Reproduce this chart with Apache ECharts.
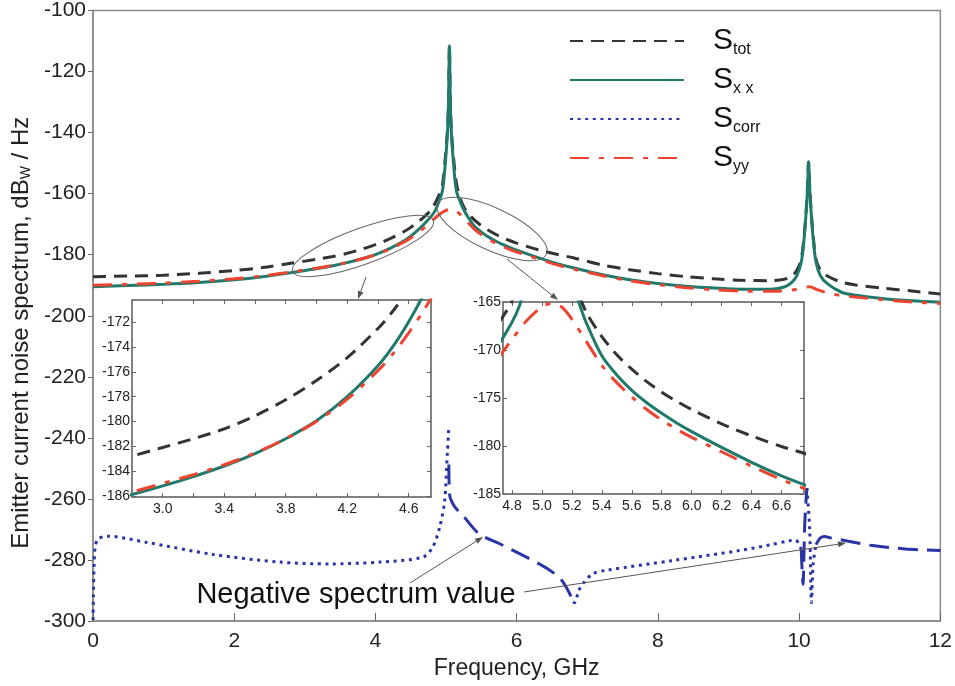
<!DOCTYPE html>
<html><head><meta charset="utf-8">
<script src="https://cdn.jsdelivr.net/npm/echarts@6/dist/echarts.min.js"></script>
<style>html,body{margin:0;padding:0;background:#fff}#c{width:955px;height:686px}</style>
</head><body><div id="c"></div>
<script>
// ---------------- data (frequency in GHz, spectrum in dB_W/Hz) ----------------
const legendNames = ['Stot', 'Sxx', 'Scorr', 'Syy'];
const legendSubs = { Stot: 'tot', Sxx: 'x x', Scorr: 'corr', Syy: 'yy' };

const stotFreq = [0, 0.5, 1.0, 1.5, 2.0, 2.4, 2.8, 3.0, 3.2, 3.4, 3.6, 3.8, 4.0, 4.2, 4.4, 4.5, 4.6, 4.7, 4.8, 4.9, 4.95, 4.99, 5.02, 5.035, 5.048, 5.06, 5.075, 5.105, 5.15, 5.2, 5.25, 5.3, 5.4, 5.5, 5.6, 5.7, 5.8, 5.9, 6.0, 6.2, 6.4, 6.6, 6.8, 7.2, 7.6, 8.0, 8.4, 8.8, 9.2, 9.6, 9.8, 9.9, 9.97, 10.03, 10.07, 10.1, 10.12, 10.134, 10.15, 10.17, 10.2, 10.24, 10.3, 10.4, 10.6, 10.8, 11.2, 11.6, 12];
const stotVal  = [-187.2, -187.0, -186.7, -186.1, -185.2, -184.2, -182.8, -182.1, -181.4, -180.6, -179.55, -178.25, -176.7, -174.85, -172.5, -171.05, -169.3, -167.4, -164.9, -160.5, -157, -148, -139, -129.5, -111.6, -129.5, -139, -148, -157, -161.5, -164.3, -166.2, -168.6, -170.5, -172.0, -173.3, -174.4, -175.35, -176.2, -177.7, -178.95, -180.05, -181.0, -183.3, -184.9, -186.2, -187.2, -187.9, -188.4, -188.5, -188.0, -187.0, -185.0, -181.5, -174, -165.5, -157.5, -149.6, -157.5, -165.5, -174, -181.5, -185.0, -187.0, -189.0, -189.9, -191.0, -191.9, -192.9];

const sxxFreq = [0, 0.5, 1.0, 1.5, 2.0, 2.4, 2.8, 3.0, 3.2, 3.4, 3.6, 3.8, 4.0, 4.2, 4.4, 4.5, 4.6, 4.7, 4.8, 4.85, 4.9, 4.95, 4.99, 5.02, 5.035, 5.048, 5.06, 5.075, 5.105, 5.145, 5.2, 5.25, 5.3, 5.4, 5.5, 5.6, 5.7, 5.8, 5.9, 6.0, 6.2, 6.4, 6.6, 6.8, 7.2, 7.6, 8.0, 8.4, 8.8, 9.2, 9.6, 9.8, 9.9, 9.97, 10.03, 10.07, 10.1, 10.12, 10.134, 10.15, 10.17, 10.2, 10.24, 10.3, 10.4, 10.6, 10.8, 11.2, 11.6, 12];
const sxxVal  = [-190.5, -190.1, -189.7, -189.1, -188.2, -187.2, -185.9, -185.2, -184.45, -183.6, -182.6, -181.4, -179.95, -178.0, -175.5, -173.9, -171.95, -169.7, -167.1, -165.4, -162.6, -159, -150, -140, -130, -111.6, -130, -140, -150, -159, -162.6, -165.2, -167.3, -170.6, -172.6, -174.2, -175.5, -176.6, -177.6, -178.5, -180.15, -181.7, -183.1, -184.3, -186.5, -188.2, -189.4, -190.3, -190.9, -191.3, -191.3, -190.5, -189.0, -186.8, -182.5, -175, -166, -158, -149.6, -158, -166, -175, -182.5, -186.8, -189.5, -192.3, -193.3, -194.4, -195.1, -195.6];

const syyFreq = [0, 0.5, 1.0, 1.5, 2.0, 2.4, 2.8, 3.0, 3.2, 3.4, 3.6, 3.8, 4.0, 4.2, 4.4, 4.5, 4.6, 4.7, 4.8, 4.9, 5.0, 5.06, 5.13, 5.2, 5.3, 5.4, 5.5, 5.6, 5.7, 5.8, 5.9, 6.0, 6.2, 6.4, 6.6, 6.8, 7.2, 7.6, 8.0, 8.4, 8.8, 9.2, 9.6, 9.9, 10.05, 10.15, 10.25, 10.4, 10.6, 10.8, 11.2, 11.6, 12];
const syyVal  = [-190.0, -189.7, -189.3, -188.7, -187.9, -186.95, -185.7, -185.0, -184.3, -183.5, -182.55, -181.4, -180.0, -178.2, -175.9, -174.5, -172.85, -171.0, -168.9, -166.9, -165.5, -165.15, -165.5, -166.8, -169.2, -171.6, -173.4, -174.9, -176.2, -177.3, -178.25, -179.1, -180.6, -182.1, -183.5, -184.7, -186.8, -188.5, -189.8, -190.8, -191.5, -191.9, -192.0, -191.6, -190.9, -190.5, -191.4, -192.5, -193.4, -193.9, -194.8, -195.5, -196.0];

// S_corr: positive parts (dotted) and negative parts plotted as |value| (dashed); null = gap
const scorrPosFreq = [0, 0.005, 0.015, 0.03, 0.07, 0.2, 0.75, 1.7, 2.64, 3.35, 4.06, 4.67, 4.81, 4.91, 4.98, 5.02, 5.04, 5.5, 6.80, 6.82, 6.88, 6.94, 7.08, 7.27, 8.21, 9.16, 9.6, 9.86, 9.95, 10.03, 10.07, 10.11, 10.15, 10.175, 10.2, 10.24];
const scorrPosVal  = [-299.7, -292, -282, -276, -273.2, -272.2, -274.2, -278.2, -280.7, -281.3, -280.7, -279.1, -275.8, -269.3, -260.7, -244.4, -236.3, null, -293.7, -294.0, -290, -287.7, -284.5, -283.4, -280.2, -276.9, -275.0, -273.7, -273.5, -276.5, null, -256.5, -270, -294, -281, -275];
const scorrNegFreq = [5.04, 5.05, 5.12, 5.24, 5.47, 5.76, 6.32, 6.54, 6.65, 6.75, 6.80, 8.0, 10.03, 10.055, 10.08, 10.11, 10.18, 10.24, 10.3, 10.36, 10.45, 10.66, 11.04, 11.51, 12];
const scorrNegVal  = [-248.7, -258.5, -262.5, -265.5, -271.5, -274.7, -281.3, -284.5, -287, -291, -293.7, null, -276.5, -288, -268, -256.5, null, -275, -272.8, -272.3, -272.8, -273.7, -275.3, -276.4, -276.9];

const mainYTicks = { min: -300, max: -100, step: 20 };
const mainXTicks = { min: 0, max: 12, step: 2 };
const inset1XTicks = [3.0, 3.2, 3.4, 3.6, 3.8, 4.0, 4.2, 4.4, 4.6];
const inset1XLabels = [3.0, 3.4, 3.8, 4.2, 4.6];
const inset1YTicks = [-186, -184, -182, -180, -178, -176, -174, -172];
const inset2XTicks = [4.8, 5.0, 5.2, 5.4, 5.6, 5.8, 6.0, 6.2, 6.4, 6.6];
const inset2YTicks = [-185, -180, -175, -170, -165];

// ---------------- styles ----------------
const FONT = 'Liberation Sans';
const C = { tot: '#333333', xx: '#1f7a6c', corr: '#2a34a6', yy: '#ec4431', axis: '#8a8a8a', text: '#222' };
const zip = (f, v) => f.map((x, i) => [x, v[i]]);

const chart = echarts.init(document.getElementById('c'));

function curve(name, data, color, type, xi, yi, z) {
  return { name, type: 'line', data, xAxisIndex: xi, yAxisIndex: yi, showSymbol: false, symbol: 'none',
    smooth: 0.3, z, connectNulls: false, silent: true,
    lineStyle: { color, width: 3, type }, itemStyle: { color } };
}
const T_TOT = [13, 8], T_CORR = [3, 4.6], T_YY = [19, 10, 5, 10], T_NEG = [20, 9];

const series = [
  curve('Stot', zip(stotFreq, stotVal), C.tot, T_TOT, 0, 0, 2),
  curve('Sxx', zip(sxxFreq, sxxVal), C.xx, 'solid', 0, 0, 2),
  curve('Scorr', zip(scorrPosFreq, scorrPosVal), C.corr, T_CORR, 0, 0, 2),
  curve('Syy', zip(syyFreq, syyVal), C.yy, T_YY, 0, 0, 2),
  curve('Scorr (negative)', zip(scorrNegFreq, scorrNegVal), C.corr, T_NEG, 0, 0, 2),
];
for (const g of [1, 2]) {
  const xi = g === 1 ? 1 : 3, yi = g === 1 ? 1 : 3;
  series.push(curve('Stot', zip(stotFreq, stotVal), C.tot, T_TOT, xi, yi, 7));
  series.push(curve('Sxx', zip(sxxFreq, sxxVal), C.xx, 'solid', xi, yi, 7));
  series.push(curve('Syy', zip(syyFreq, syyVal), C.yy, T_YY, xi, yi, 7));
}

const lab = (size) => ({ fontFamily: FONT, fontSize: size, color: C.text });

function insetAxes(gi, xr, yr, xTicks, xLabels, yTicks) {
  const common = { gridIndex: gi, type: 'value', z: 6, splitLine: { show: false },
    axisLine: { show: true, lineStyle: { color: '#7a7a7a', width: 1.5 } } };
  const tick = (vals) => ({ show: true, inside: true, length: 4, customValues: vals, lineStyle: { color: '#666' } });
  const xs = [
    Object.assign({}, common, { min: xr[0], max: xr[1], position: 'bottom', axisTick: tick(xTicks),
      axisLabel: Object.assign(lab(14), { margin: 5, customValues: xLabels, formatter: v => (+v).toFixed(1) }) }),
    Object.assign({}, common, { min: xr[0], max: xr[1], position: 'top', axisTick: tick(xTicks), axisLabel: { show: false } })
  ];
  const ys = [
    Object.assign({}, common, { min: yr[0], max: yr[1], position: 'left', axisTick: tick(yTicks),
      axisLabel: Object.assign(lab(14), { margin: 2, customValues: yTicks, formatter: v => String(Math.round(v)) }) }),
    Object.assign({}, common, { min: yr[0], max: yr[1], position: 'right', axisTick: tick(yTicks), axisLabel: { show: false } })
  ];
  return { xs, ys };
}
const in1 = insetAxes(1, [2.8, 4.745], [-186.1, -170.2], inset1XTicks, inset1XLabels, inset1YTicks);
const in2 = insetAxes(2, [4.74, 6.75], [-185, -165], inset2XTicks, inset2XTicks, inset2YTicks);

// annotations
function arrow(x1, y1, x2, y2) {
  const ang = Math.atan2(y2 - y1, x2 - x1), L = 8, W = 3;
  const bx = x2 - L * Math.cos(ang), by = y2 - L * Math.sin(ang);
  const px = -Math.sin(ang) * W, py = Math.cos(ang) * W;
  return [
    { type: 'line', z: 20, silent: true, shape: { x1, y1, x2: bx, y2: by }, style: { stroke: '#555', lineWidth: 1 } },
    { type: 'polygon', z: 20, silent: true, shape: { points: [[x2, y2], [bx + px, by + py], [bx - px, by - py]] }, style: { fill: '#555' } }
  ];
}
const graphic = [
  { type: 'ellipse', z: 20, silent: true, x: 363, y: 246, rotation: 20 * Math.PI / 180,
    shape: { cx: 0, cy: 0, rx: 75, ry: 18 }, style: { fill: 'none', stroke: '#666', lineWidth: 1 } },
  { type: 'ellipse', z: 20, silent: true, x: 492, y: 229, rotation: -25 * Math.PI / 180,
    shape: { cx: 0, cy: 0, rx: 60, ry: 21 }, style: { fill: 'none', stroke: '#666', lineWidth: 1 } },
  ...arrow(366, 277, 358, 299),
  ...arrow(507, 259, 558, 300),
  ...arrow(410, 583, 483, 537),
  ...arrow(524, 592, 846, 543),
  { type: 'text', z: 21, silent: true, x: 356, y: 595,
    style: { text: 'Negative spectrum value', font: '29px "Liberation Sans"', fill: '#111', align: 'center', verticalAlign: 'middle' } }
];

const option = {
  animation: false,
  backgroundColor: '#fff',
  grid: [
    { left: 93, right: 14, top: 6, bottom: 65, show: true, borderColor: C.axis, borderWidth: 1.5, z: 0 },
    { left: 132, top: 300, width: 299, height: 197, show: true, backgroundColor: '#fff', borderColor: '#7a7a7a', borderWidth: 1.5, z: 5 },
    { left: 503, top: 302, width: 301, height: 192, show: true, backgroundColor: '#fff', borderColor: '#7a7a7a', borderWidth: 1.5, z: 5 }
  ],
  legend: {
    data: legendNames, orient: 'vertical', left: 569, top: 26, padding: 0, itemWidth: 114, itemHeight: 14, itemGap: 7,
    selectedMode: false, z: 30, itemStyle: { opacity: 0 },
    formatter: n => '{s|S}{sub|' + legendSubs[n] + '}',
    textStyle: { fontFamily: FONT, color: '#111', rich: {
      s: { fontFamily: FONT, fontSize: 30, lineHeight: 34, color: '#111', padding: [0, 0, 0, 24] },
      sub: { fontFamily: FONT, fontSize: 16, lineHeight: 14, color: '#111', verticalAlign: 'bottom' } } }
  },
  xAxis: [
    { gridIndex: 0, type: 'value', min: mainXTicks.min, max: mainXTicks.max, interval: mainXTicks.step,
      name: 'Frequency, GHz', nameLocation: 'middle', nameGap: 30, nameTextStyle: lab(23),
      axisLine: { lineStyle: { color: C.axis, width: 1.5 } }, splitLine: { show: false },
      axisTick: { inside: true, length: 8, lineStyle: { color: '#666' } },
      axisLabel: Object.assign(lab(21), { margin: 10 }) },
    ...in1.xs, ...in2.xs
  ],
  yAxis: [
    { gridIndex: 0, type: 'value', min: mainYTicks.min, max: mainYTicks.max, interval: mainYTicks.step,
      name: '{a|Emitter current noise spectrum, dB}{b|W}{a| / Hz}', nameLocation: 'middle', nameGap: 58,
      nameTextStyle: { padding: [0, 34, 0, 0], rich: { a: lab(24), b: { fontFamily: FONT, fontSize: 14, color: C.text, verticalAlign: 'bottom', lineHeight: 12 } } },
      axisLine: { lineStyle: { color: C.axis, width: 1.5 } }, splitLine: { show: false },
      axisTick: { inside: false, length: 5, lineStyle: { color: '#666' } },
      axisLabel: Object.assign(lab(21), { margin: 7 }) },
    ...in1.ys, ...in2.ys
  ],
  series,
  graphic
};
chart.setOption(option);
</script></body></html>
